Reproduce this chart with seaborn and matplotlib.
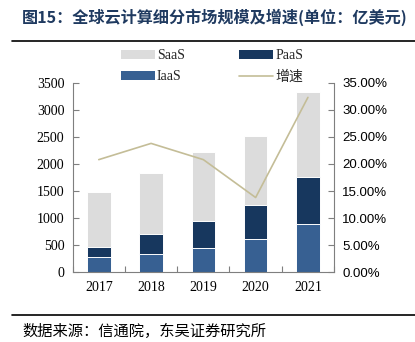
import numpy as np
import pandas as pd
import matplotlib
matplotlib.use("Agg")
import matplotlib.pyplot as plt
import seaborn as sns
from matplotlib.patches import Patch
from matplotlib.lines import Line2D
from matplotlib.ticker import FuncFormatter

years = ["2017", "2018", "2019", "2020", "2021"]
iaas = [277, 338, 455, 609, 886]
paas = [190, 363, 486, 627, 873]
saas = [1022, 1138, 1279, 1286, 1569]
growth = [20.8, 23.8, 20.8, 13.8, 32.3]

c_saas = "#DCDCDC"
c_paas = "#17375E"
c_iaas = "#376092"
c_line = "#C4BD97"

sns.set_theme(style="white")
plt.rcParams["font.family"] = ["Liberation Serif", "Noto Sans CJK SC"]

df = pd.DataFrame({"year": years, "IaaS": iaas, "PaaS": paas, "SaaS": saas, "growth": growth})
df["lvl2"] = df["IaaS"] + df["PaaS"]
df["lvl3"] = df["lvl2"] + df["SaaS"]

fig = plt.figure(figsize=(4.15, 3.42), dpi=100)
ax = fig.add_axes([0.175, 0.204, 0.630, 0.554])

kw = dict(width=0.45, edgecolor="white", linewidth=0.7, saturation=1, ax=ax)
sns.barplot(data=df, x="year", y="lvl3", color=c_saas, **kw)
sns.barplot(data=df, x="year", y="lvl2", color=c_paas, **kw)
sns.barplot(data=df, x="year", y="IaaS", color=c_iaas, **kw)

ax.set_ylim(0, 3500)
ax.set_yticks(np.arange(0, 3501, 500))
ax.set_xlim(-0.5, 4.5)
ax.set_xlabel("")
ax.set_ylabel("")

ax2 = ax.twinx()
sns.lineplot(x=np.arange(len(years)), y=df["growth"], ax=ax2, color=c_line, linewidth=1.2)
ax2.set_ylim(0, 35)
ax2.set_yticks(np.arange(0, 35.1, 5))
ax2.yaxis.set_major_formatter(FuncFormatter(lambda v, p: f"{v:.2f}%"))
ax2.set_ylabel("")
ax2.set_xlim(-0.5, 4.5)

spc = "#7F7F7F"
for a in (ax, ax2):
    a.spines["top"].set_visible(False)
    for s in ("left", "right", "bottom"):
        a.spines[s].set_color(spc)
        a.spines[s].set_linewidth(0.8)
ax.spines["right"].set_visible(False)
ax2.spines["left"].set_visible(False)
ax2.spines["bottom"].set_visible(False)

ax.tick_params(axis="y", direction="in", length=4, color=spc, width=0.8, left=True,
               labelsize=10, pad=6)
ax.tick_params(axis="x", length=0, labelsize=10, pad=6)
ax.set_xticks(np.arange(-0.5, 4.6, 1.0), minor=True)
ax.tick_params(axis="x", which="minor", direction="in", length=4, color=spc, width=0.8, bottom=True)
for lab in ax.get_yticklabels() + ax.get_xticklabels():
    lab.set_fontfamily("Liberation Serif")
    lab.set_color("black")

ax2.tick_params(axis="y", direction="in", length=4, color=spc, width=0.8, right=True,
                labelsize=9.5, pad=6)
for lab in ax2.get_yticklabels():
    lab.set_fontfamily("Liberation Sans")
    lab.set_color("black")

handles = [Patch(facecolor=c_saas, edgecolor="none"),
           Patch(facecolor=c_iaas, edgecolor="none"),
           Patch(facecolor=c_paas, edgecolor="none"),
           Line2D([0], [0], color=c_line, lw=1.2)]
labels = ["SaaS", "IaaS", "PaaS", "增速"]
leg = fig.legend(handles, labels, ncol=2, loc="upper left",
                 bbox_to_anchor=(0.261, 0.893), frameon=False,
                 handlelength=2.45, handleheight=0.6, handletextpad=0.15,
                 columnspacing=3.9, labelspacing=0.6, fontsize=10)
for t in leg.get_texts():
    t.set_fontfamily(["Liberation Serif", "Noto Sans CJK SC"])

fig.text(0.053, 0.950, "图15：全球云计算细分市场规模及增速(单位：亿美元)",
         fontsize=11.6, fontweight="bold", color="#1F3A60",
         family=["Noto Sans CJK SC"], va="center", ha="left")
fig.add_artist(Line2D([0.03, 1.0], [0.880, 0.880], color="black", lw=1.2,
                      transform=fig.transFigure))
fig.add_artist(Line2D([0.03, 1.0], [0.079, 0.079], color="black", lw=1.2,
                      transform=fig.transFigure))
fig.text(0.053, 0.030, "数据来源：信通院，东吴证券研究所", fontsize=11,
         family=["Noto Sans CJK SC"], va="center", ha="left", color="black")

fig.savefig("out.png", dpi=100)
